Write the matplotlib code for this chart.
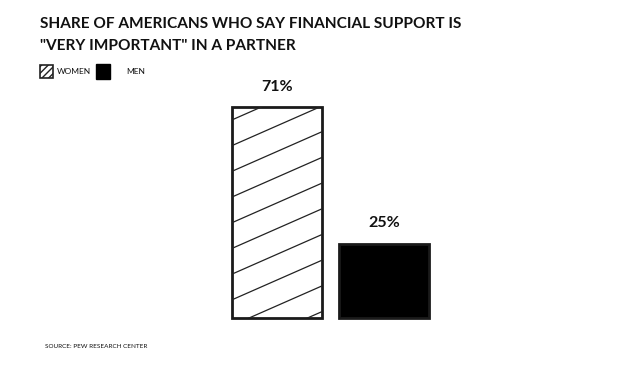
"""Share of Americans who say financial support is "very important" in a partner."""
import matplotlib
matplotlib.use("Agg")
import matplotlib.pyplot as plt
import numpy as np
from matplotlib.patches import Rectangle

groups = ["WOMEN", "MEN"]
values = [71, 25]
value_labels = ["71%", "25%"]
title_lines = ["SHARE OF AMERICANS WHO SAY FINANCIAL SUPPORT IS",
               '"VERY IMPORTANT" IN A PARTNER']
source = "SOURCE: PEW RESEARCH CENTER"

W, H, DPI = 628, 369, 100
plt.rcParams["font.family"] = ["Lato", "DejaVu Sans"]

fig = plt.figure(figsize=(W / DPI, H / DPI), dpi=DPI)
fig.patch.set_facecolor("white")

# axes spans the whole figure; map data -> pixels by hand-picked limits
base_px, px_per_pct = 318, 2.97          # baseline row (from top) and px per %
x0_px, px_per_unit = 277, 107            # first bar centre and spacing
ax = fig.add_axes([0, 0, 1, 1])
ax.set_xlim(-x0_px / px_per_unit, (W - x0_px) / px_per_unit)
ax.set_ylim(-(H - base_px) / px_per_pct, base_px / px_per_pct)
ax.axis("off")

x = np.arange(len(groups))
bw = 90 / px_per_unit
bars = ax.bar(x, values, width=bw, color=["white", "black"],
              edgecolor="#1a1a1a", linewidth=2.0)

# sparse hand-drawn style hatch on the women bar, clipped to the bar
women = bars[0]
slope = 0.44 * px_per_unit / px_per_pct   # data units of y per unit of x
gap = 25.7 / px_per_pct
xl, xr = women.get_x(), women.get_x() + women.get_width()
for c in np.arange(-63.1, values[0] + 20, gap):
    ln, = ax.plot([xl, xr], [c, c + slope * (xr - xl)], color="#222222", lw=0.9)
    ln.set_clip_path(women)

for xi, v, lab in zip(x, values, value_labels):
    ax.text(xi, v + 4.5, lab, ha="center", va="bottom", fontsize=11.5,
            fontweight="bold", color="#111111")

# title: size the font so the first line is ~425 px wide
renderer = fig.canvas.get_renderer()
t1 = fig.text(40 / W, 1 - 28 / H, title_lines[0], ha="left", va="baseline",
              fontsize=14, fontweight="bold", color="#111111")
w = t1.get_window_extent(renderer).width
fs = 14 * 425 / w
t1.set_fontsize(fs)
fig.text(40 / W, 1 - 50 / H, title_lines[1], ha="left", va="baseline",
         fontsize=fs, fontweight="bold", color="#111111")

# legend drawn by hand
fig.patches.append(Rectangle((40 / W, 1 - 78 / H), 13 / W, 13 / H,
                             transform=fig.transFigure, facecolor="white",
                             edgecolor="#222222", hatch="/////", lw=1.2))
fig.text(57 / W, 1 - 72 / H, groups[0], ha="left", va="center", fontsize=6,
         color="#111111")
fig.patches.append(Rectangle((96 / W, 1 - 79 / H), 14 / W, 15 / H,
                             transform=fig.transFigure, facecolor="black",
                             edgecolor="black", lw=1))
fig.text(126 / W, 1 - 72 / H, groups[1], ha="left", va="center", fontsize=6,
         color="#111111")

fig.text(45 / W, 1 - 346 / H, source, ha="left", va="center", fontsize=4.6,
         color="#111111")

fig.savefig("out.png", dpi=DPI, facecolor="white")
